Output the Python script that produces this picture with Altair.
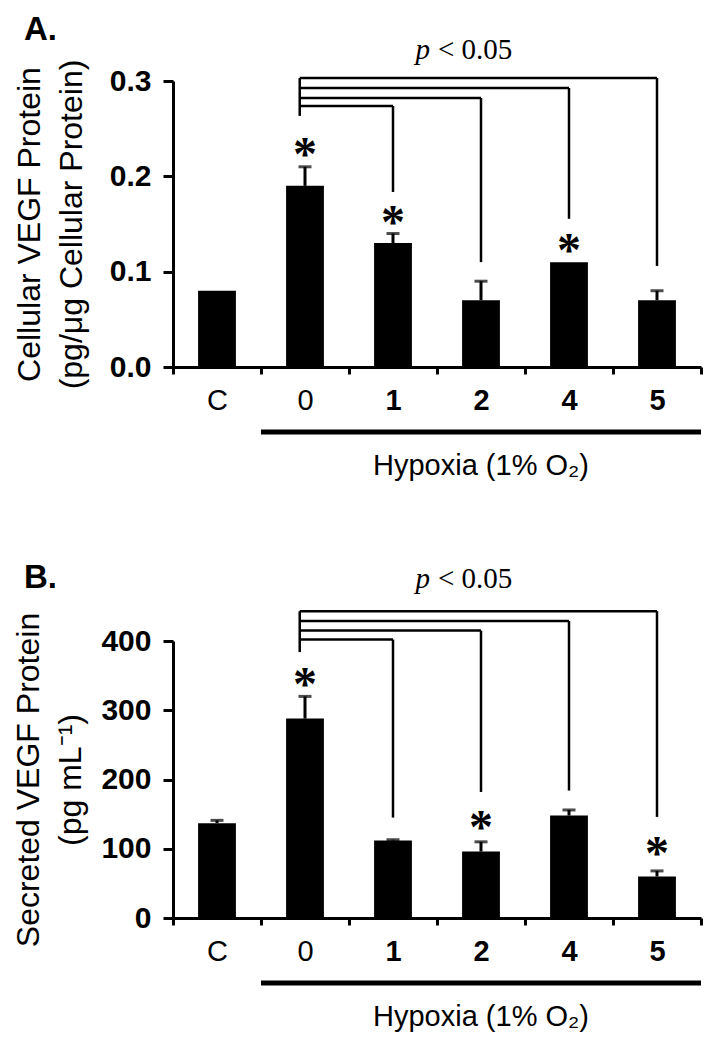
import altair as alt
import pandas as pd

# ---------------- data ----------------
categories = ["C", "0", "1", "2", "4", "5"]

a_values = [0.08, 0.19, 0.13, 0.07, 0.11, 0.07]
a_errors = [0.0, 0.02, 0.01, 0.02, 0.0, 0.01]
a_star_cats = ["0", "1", "4"]
a_star_vals = [0.232, 0.161, 0.131]
a_bracket_targets = ["1", "2", "4", "5"]
a_bracket_levels = [0.2738, 0.2822, 0.2927, 0.3031]
a_bracket_ends = [0.1836, 0.110, 0.1555, 0.106]
a_bracket_base = 0.2634
a_p_level = 0.3231

b_values = [137, 288, 112, 96, 148, 60]
b_errors = [4, 32, 1, 14, 8, 8]
b_star_cats = ["0", "2", "5"]
b_star_vals = [349, 142.6, 106]
b_bracket_targets = ["1", "2", "4", "5"]
b_bracket_levels = [402, 415, 429, 443]
b_bracket_ends = [145, 182, 184, 146]
b_bracket_base = 384
b_p_level = 476

SANS = "Liberation Sans"
SERIF = "Liberation Serif"
W = 528


def panel(values, errors, star_cats, star_vals, br_targets, br_levels, br_ends,
          br_base, p_level, domain, ticks, fmt, ytitle, label, h,
          title_pad, title_offset):
    ysc = alt.Scale(domain=domain, nice=False, zero=True)
    xsc = alt.Scale(domain=categories, paddingInner=0, paddingOuter=0)

    df = pd.DataFrame({"cat": categories, "val": values, "err": errors})
    df["top"] = df["val"] + df["err"]

    xaxis = alt.Axis(
        title=None, tickBand="extent", labelAngle=0, tickSize=7,
        labelPadding=12, labelFontSize=29, labelFont=SANS,
        labelFontWeight={"condition": {"test": "datum.value === 'C' || datum.value === '0'",
                                        "value": "normal"}, "value": "bold"},
        labelColor="black", domainColor="black", tickColor="black",
        domainWidth=3, tickWidth=3, grid=False,
    )
    yaxis = alt.Axis(
        title=ytitle, values=ticks, format=fmt, tickSize=10, labelPadding=12,
        labelFontSize=30, labelFont=SANS, labelFontWeight="bold",
        labelColor="black", domainColor="black", tickColor="black",
        domainWidth=3, tickWidth=3, grid=False,
        titleFont=SANS, titleFontSize=32, titleFontWeight="normal",
        titleLineHeight=42, titlePadding=title_pad, titleColor="black",
    )

    def X(field, **kw):
        return alt.X(field, scale=xsc, axis=xaxis, sort=categories, **kw)

    def Y(field):
        return alt.Y(field, scale=ysc, axis=yaxis)

    bars = alt.Chart(df).mark_bar(color="black", width=alt.RelativeBandSize(0.43)).encode(
        x=X("cat:N"), y=Y("val:Q"),
    )
    err_df = df[df["err"] > 0]
    err = alt.Chart(err_df).mark_rule(color="black", strokeWidth=3).encode(
        x=X("cat:N"), y=Y("val:Q"), y2="top:Q",
    )
    cap = alt.Chart(err_df).mark_tick(color="black", thickness=3, size=13).encode(
        x=X("cat:N"), y=Y("top:Q"),
    )
    sdf = pd.DataFrame({"cat": star_cats, "v": star_vals})
    stars = alt.Chart(sdf).mark_text(
        text="*", font=SERIF, fontSize=48, fontWeight="bold", color="black",
        baseline="middle", dy=10,
    ).encode(x=X("cat:N"), y=Y("v:Q"))
    bdf = pd.DataFrame({"start": ["0"] * len(br_targets), "target": br_targets,
                        "level": br_levels, "end": br_ends})
    hlines = alt.Chart(bdf).mark_rule(color="black", strokeWidth=2.5).encode(
        x=X("start:N", bandPosition=0.44), x2="target:N", y=Y("level:Q"),
    )
    vlines = alt.Chart(bdf).mark_rule(color="black", strokeWidth=2.5).encode(
        x=X("target:N"), y=Y("end:Q"), y2="level:Q",
    )
    ldf = pd.DataFrame({"start": ["0"], "base": [br_base], "level": [max(br_levels)]})
    lline = alt.Chart(ldf).mark_rule(color="black", strokeWidth=2.5).encode(
        x=X("start:N", bandPosition=0.44), y=Y("base:Q"), y2="level:Q",
    )
    pdf = pd.DataFrame({"cat": ["2"], "v": [p_level]})
    p_it = alt.Chart(pdf).mark_text(
        text="p", font=SERIF, fontSize=29, fontStyle="italic", color="black",
        align="right", baseline="alphabetic", dx=-51,
    ).encode(x=X("cat:N"), y=Y("v:Q"))
    p_rest = alt.Chart(pdf).mark_text(
        text="< 0.05", font=SERIF, fontSize=29, color="black",
        align="left", baseline="alphabetic", dx=-43,
    ).encode(x=X("cat:N"), y=Y("v:Q"))

    hdf = pd.DataFrame({"s": ["0"], "e": ["5"], "mid": ["2"]})
    hyp_line = alt.Chart(hdf).mark_rule(color="black", strokeWidth=5).encode(
        x=X("s:N", bandPosition=0),
        x2=alt.X2("e:N", bandPosition=1),
        y=alt.value(h + 65),
    )
    hyp_text = alt.Chart(hdf).mark_text(
        text="Hypoxia (1% O₂)", font=SANS, fontSize=29, color="black",
        baseline="middle", align="center",
    ).encode(x=X("mid:N"), y=alt.value(h + 99))

    return alt.layer(
        bars, err, cap, stars, hlines, vlines, lline, p_it, p_rest, hyp_line, hyp_text
    ).properties(
        width=W, height=h,
        title=alt.TitleParams(text=label, anchor="start", frame="group", dx=-149,
                              offset=title_offset, font=SANS, fontSize=33,
                              fontWeight="bold", color="black"),
    )


panel_a = panel(a_values, a_errors, a_star_cats, a_star_vals, a_bracket_targets,
                a_bracket_levels, a_bracket_ends, a_bracket_base, a_p_level,
                [0, 0.3], [0, 0.1, 0.2, 0.3], ".1f",
                ["Cellular VEGF Protein", "(pg/μg Cellular Protein)"], "A.", 286, 21, -11)
panel_b = panel(b_values, b_errors, b_star_cats, b_star_vals, b_bracket_targets,
                b_bracket_levels, b_bracket_ends, b_bracket_base, b_p_level,
                [0, 400], [0, 100, 200, 300, 400], "d",
                ["Secreted VEGF Protein", "(pg mL⁻¹)"], "B.", 277, 13, -30)

chart = alt.vconcat(panel_a, panel_b, spacing=81).properties(
    padding={"left": 4, "top": 5, "right": 5, "bottom": 5},
    background="white",
).configure_view(stroke=None)

chart.save("out.html", embed_options={"renderer": "svg", "actions": False})
